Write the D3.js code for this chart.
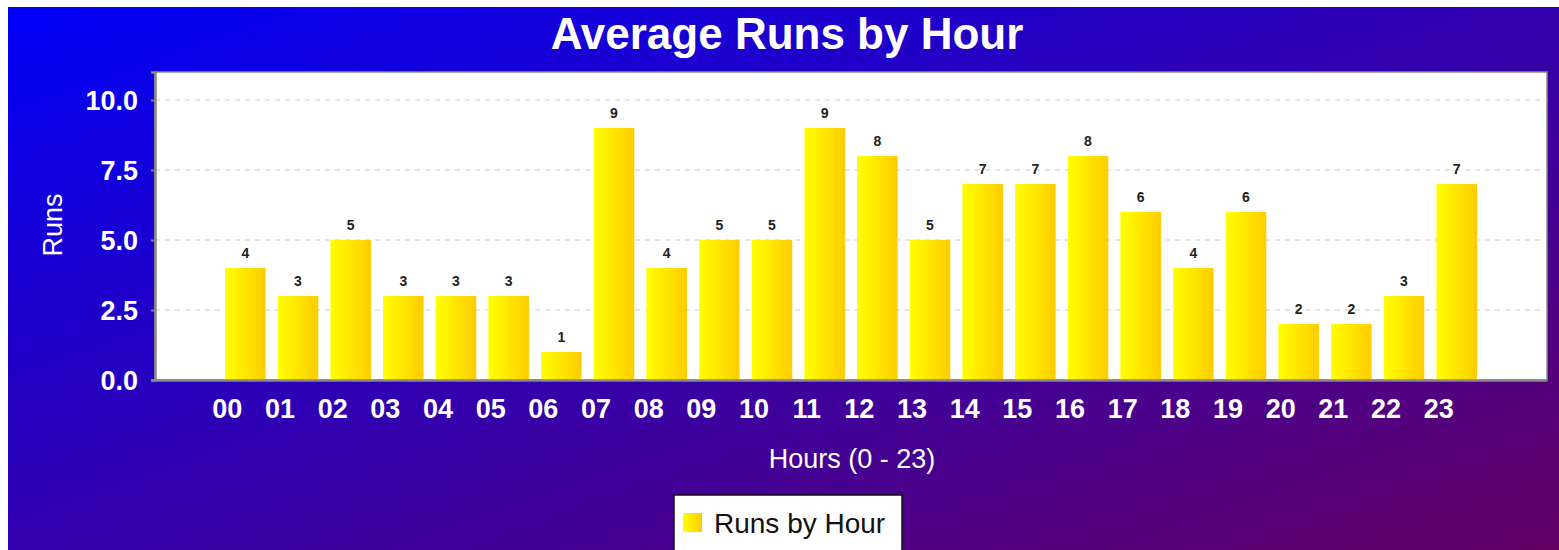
<!DOCTYPE html>
<html lang="en">
<head>
    <meta charset="UTF-8">
    <title>Average Runs by Hour</title>
    <style>
        body { margin:0; background:#fff; }
        text { font-family: 'Liberation Sans', Arial, sans-serif; }
        .tick-y text, .tick-x text { font-size:27px; font-weight:bold; fill:#fff; }
        .axis-title { font-size:27px; fill:#fff; }
        .value { font-size:14px; font-weight:bold; fill:#222; }
        .grid line { stroke:#c8c8c8; stroke-dasharray:5,5; }
    </style>
    <script src="https://d3js.org/d3.v7.min.js"></script>
</head>
<body>
<script>

var hours = ["00","01","02","03","04","05","06","07","08","09","10","11",
             "12","13","14","15","16","17","18","19","20","21","22","23"];
var runs = [4,3,5,3,3,3,1,9,4,5,5,9,8,5,7,7,8,6,4,6,2,2,3,7];
var yTicks = [0, 2.5, 5, 7.5, 10];
var chartTitle = "Average Runs by Hour";
var seriesName = "Runs by Hour";

var window_width = 1559;
var window_height = 550;
var plot = { left:155, top:72, right:1547, bottom:380 };

var svg = d3.select("body").append("svg").attr("width", window_width).attr("height", window_height);
var defs = svg.append("defs");

var bg = defs.append("linearGradient").attr("id", "bg")
    .attr("x1", 0).attr("y1", 0).attr("x2", 1).attr("y2", 1);
bg.append("stop").attr("offset", "0%").attr("stop-color", "#0000f8");
bg.append("stop").attr("offset", "100%").attr("stop-color", "#640064");

var barFill = defs.append("linearGradient").attr("id", "bar")
    .attr("x1", 0).attr("y1", 0).attr("x2", 1).attr("y2", 0);
barFill.append("stop").attr("offset", "0%").attr("stop-color", "#ffff00");
barFill.append("stop").attr("offset", "100%").attr("stop-color", "#ffcc00");

svg.append("rect").attr("x", 8).attr("y", 7).attr("width", window_width - 8).attr("height", window_height - 7)
    .attr("fill", "url(#bg)");

svg.append("text").attr("x", 787).attr("y", 49).attr("text-anchor", "middle")
    .style("font-size", "44px").style("font-weight", "bold").style("fill", "#fff")
    .text(chartTitle);

var xScale = d3.scaleBand().domain(hours).range([plot.left, plot.right])
    .paddingInner(0.23).paddingOuter(1.33);
var yScale = d3.scaleLinear().domain([0, 11]).range([plot.bottom, plot.top]);

// plot background
svg.append("rect").attr("x", plot.left).attr("y", plot.top)
    .attr("width", plot.right - plot.left).attr("height", plot.bottom - plot.top)
    .attr("fill", "#fff").attr("stroke", "#8a8a8a").attr("stroke-width", 1.5);

// grid lines
svg.append("g").attr("class", "grid")
    .selectAll("line").data(yTicks.filter(function(t){ return t > 0; })).enter().append("line")
    .attr("x1", plot.left).attr("x2", plot.right)
    .attr("y1", function(d){ return yScale(d); }).attr("y2", function(d){ return yScale(d); });

// bars
svg.append("g").selectAll("rect").data(runs).enter().append("rect")
    .attr("x", function(d, i){ return xScale(hours[i]); })
    .attr("y", function(d){ return yScale(d); })
    .attr("width", xScale.bandwidth())
    .attr("height", function(d){ return yScale(0) - yScale(d); })
    .attr("fill", "url(#bar)");

// value labels
svg.append("g").selectAll("text").data(runs).enter().append("text")
    .attr("class", "value")
    .attr("x", function(d, i){ return xScale(hours[i]) + xScale.bandwidth() / 2; })
    .attr("y", function(d){ return yScale(d) - 10; })
    .attr("text-anchor", "middle")
    .text(function(d){ return d; });

// y axis
var yAxis = svg.append("g").attr("class", "tick-y")
    .attr("transform", "translate(" + plot.left + ",0)")
    .call(d3.axisLeft(yScale).tickValues(yTicks).tickFormat(d3.format(".1f")).tickSize(4).tickPadding(13));
yAxis.select(".domain").attr("stroke", "#888").attr("stroke-width", 2.5);
yAxis.selectAll(".tick line").attr("stroke", "#888").attr("stroke-width", 2);
yAxis.selectAll("text").attr("dy", "0.36em");

// x axis
var xAxis = svg.append("g").attr("class", "tick-x")
    .attr("transform", "translate(0," + plot.bottom + ")")
    .call(d3.axisBottom(xScale).tickSize(0).tickPadding(18));
xAxis.select(".domain").attr("stroke", "#888").attr("stroke-width", 2.5);
xAxis.selectAll("text").attr("dx", -18).attr("dy", "0.75em");

// axis titles
svg.append("text").attr("class", "axis-title")
    .attr("x", 852).attr("y", 468).attr("text-anchor", "middle")
    .text("Hours (0 - 23)");
svg.append("text").attr("class", "axis-title")
    .attr("transform", "translate(62,225) rotate(-90)").attr("text-anchor", "middle")
    .text("Runs");

// legend
var legend = svg.append("g");
legend.append("rect").attr("x", 674).attr("y", 495).attr("width", 228).attr("height", 62)
    .attr("fill", "#fff").attr("stroke", "#111").attr("stroke-width", 1.5);
legend.append("rect").attr("x", 683).attr("y", 513).attr("width", 19).attr("height", 19)
    .attr("fill", "url(#bar)");
legend.append("text").attr("x", 714).attr("y", 533)
    .style("font-size", "28px").style("fill", "#111")
    .text(seriesName);

</script>
</body>
</html>
